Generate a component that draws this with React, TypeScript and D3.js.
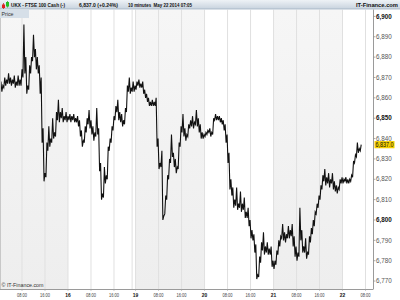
import React from "react";
import * as d3 from "d3";

// 40-minute samples (hours from May 15 00:00 on a session-compressed time axis)
const stepHours = 2 / 3;
const closes: number[] = [
  6871, 6868, 6866, 6870, 6869, 6872, 6870, 6869, 6871, 6868, 6871, 6869, 6874, 6896, 6880, 6866,
  6876, 6880, 6891, 6884, 6880, 6876, 6870, 6845, 6823, 6838, 6846, 6840, 6850, 6843, 6853, 6859,
  6853, 6855, 6851, 6853, 6851,
  6852, 6851, 6852, 6850, 6851, 6849, 6844, 6839, 6846, 6850, 6854, 6849, 6846, 6843, 6855, 6845,
  6828, 6813, 6826, 6822, 6836, 6840, 6846, 6851, 6856, 6859, 6853, 6852, 6849, 6855, 6866, 6870,
  6865, 6868, 6866,
  6868, 6869, 6867, 6868, 6864, 6862, 6860, 6858, 6859, 6858, 6860, 6840, 6828, 6834, 6802, 6812,
  6822, 6830, 6842, 6833, 6830, 6826, 6838, 6846, 6852, 6845, 6842, 6847, 6849, 6851, 6848, 6854,
  6850, 6847, 6843,
  6842, 6843, 6844, 6845, 6843, 6850, 6852, 6851, 6851, 6850, 6849, 6847, 6842, 6833, 6820, 6816,
  6810, 6816, 6808, 6814, 6808, 6811, 6804, 6806, 6800, 6795, 6793, 6788, 6773, 6782, 6789, 6794,
  6787, 6789, 6786, 6787, 6780,
  6780, 6785, 6790, 6792, 6798, 6794, 6793, 6797, 6795, 6798, 6792, 6787, 6784, 6806, 6795, 6787,
  6791, 6784, 6792, 6796, 6800, 6804, 6808, 6812, 6817, 6822, 6825, 6821, 6823, 6820, 6823, 6819,
  6817, 6816, 6820,
  6821, 6820, 6821, 6820, 6820, 6822, 6829, 6832, 6838, 6835, 6837,
];
// lowest trade inside each 40-minute sample
const lows: number[] = [
  6867, 6864, 6863, 6865, 6866, 6867, 6867, 6866, 6867, 6865, 6866, 6866, 6866, 6870, 6872, 6862,
  6864, 6872, 6878, 6880, 6874, 6872, 6862, 6838, 6819, 6821, 6834, 6836, 6838, 6840, 6841, 6849,
  6848, 6850, 6848, 6849, 6848,
  6849, 6848, 6849, 6848, 6848, 6846, 6841, 6836, 6838, 6843, 6847, 6845, 6842, 6839, 6841, 6842,
  6824, 6810, 6811, 6818, 6820, 6834, 6838, 6844, 6849, 6853, 6849, 6848, 6846, 6847, 6853, 6863,
  6862, 6863, 6863,
  6864, 6866, 6865, 6865, 6862, 6860, 6858, 6856, 6856, 6856, 6856, 6836, 6825, 6826, 6800, 6803,
  6810, 6820, 6828, 6831, 6826, 6823, 6825, 6836, 6843, 6841, 6839, 6841, 6845, 6846, 6845, 6847,
  6846, 6843, 6840,
  6840, 6841, 6842, 6843, 6841, 6842, 6849, 6849, 6849, 6848, 6847, 6844, 6838, 6828, 6815, 6812,
  6806, 6807, 6805, 6806, 6804, 6805, 6801, 6801, 6797, 6791, 6790, 6784, 6771, 6772, 6779, 6785,
  6783, 6784, 6783, 6783, 6777,
  6776, 6778, 6783, 6787, 6791, 6790, 6789, 6791, 6791, 6792, 6787, 6782, 6780, 6782, 6790, 6784,
  6784, 6781, 6783, 6789, 6793, 6797, 6803, 6806, 6810, 6815, 6819, 6817, 6818, 6816, 6818, 6815,
  6814, 6813, 6815,
  6818, 6818, 6819, 6818, 6818, 6819, 6821, 6828, 6831, 6833, 6834,
];

const tickHours = [8, 16, 24, 32, 40, 47.5, 55.5, 63.5, 71.5, 79.5, 87.5, 95.5, 103.5, 111.5, 119.5, 127.5];
const tickLabels = ["08:00", "16:00", "16", "08:00", "16:00", "19", "08:00", "16:00", "20", "08:00", "16:00", "21", "08:00", "16:00", "22", "08:00"];
const sessionBreaks = [46.3];
const shadedDays: [number, number][] = [[0, 24], [47.5, 71.5], [95.5, 119.5]];
const yTicks = [6770, 6780, 6790, 6800, 6810, 6820, 6830, 6840, 6850, 6860, 6870, 6880, 6890, 6900];
const lastPrice = 6837.0;

const FONT = "'Liberation Sans', Arial, sans-serif";

export default function App() {
  const left = 0, right = 373, top = 9.5, bottom = 289;
  const x = d3.scaleLinear().domain([0.35, 130.1]).range([left, right]);
  const y = d3.scaleLinear().domain([6766.1, 6903.4]).range([bottom, top]);
  const fmt = d3.format(",");

  const pts: [number, number][] = [];
  closes.forEach((c, i) => {
    const t = i * stepHours;
    if (i > 0) pts.push([t - stepHours / 2, lows[i]]);
    pts.push([t, c]);
  });
  const line = d3
    .line<[number, number]>()
    .x((d) => x(d[0]))
    .y((d) => y(d[1]));

  return (
    <svg width={400} height={300} style={{ position: "absolute", left: 0, top: 0, background: "#fff" }} fontFamily={FONT}>
      <defs>
        <linearGradient id="hdr" x1="0" y1="0" x2="0" y2="1">
          <stop offset="0" stopColor="#eef2f6" />
          <stop offset="1" stopColor="#c8d3de" />
        </linearGradient>
        <linearGradient id="shade" x1="0" y1="0" x2="0" y2="1">
          <stop offset="0" stopColor="#f6f6f6" />
          <stop offset="1" stopColor="#eeeeee" />
        </linearGradient>
        <clipPath id="plot">
          <rect x={left} y={top} width={right - left} height={bottom - top} />
        </clipPath>
      </defs>

      {/* day shading */}
      <g clipPath="url(#plot)">
        {shadedDays.map(([a, b], i) => (
          <rect key={i} x={x(a)} y={top} width={x(b) - x(a)} height={bottom - top} fill="url(#shade)" />
        ))}
        {tickHours.map((h, i) => (
          <line key={i} x1={x(h)} x2={x(h)} y1={top} y2={bottom} stroke="#e0e0e0" strokeWidth={1} />
        ))}
        {sessionBreaks.map((h, i) => (
          <line key={i} x1={x(h)} x2={x(h)} y1={top} y2={bottom} stroke="#e0e0e0" strokeWidth={1} />
        ))}
        <path d={line(pts) || ""} fill="none" stroke="#111" strokeWidth={1.1} strokeLinejoin="miter" />
      </g>

      {/* left border */}
      <line x1={0.5} x2={0.5} y1={top} y2={bottom} stroke="#c8c8c8" />

      {/* header */}
      <rect x={0} y={0} width={400} height={9} fill="url(#hdr)" />
      <line x1={0} x2={400} y1={9} y2={9} stroke="#9fb0c0" strokeWidth={0.8} />
      <g>
        <line x1={3.5} x2={3.5} y1={3} y2={9} stroke="#a00" strokeWidth={0.6} />
        <rect x={2} y={4.5} width={3} height={3.5} fill="#e02020" />
        <line x1={7.5} x2={7.5} y1={1} y2={7.5} stroke="#080" strokeWidth={0.6} />
        <rect x={6} y={2} width={3} height={4.5} fill="#22c022" />
      </g>
      <g fontSize={6} fontWeight="bold" fill="#111">
        <text x={11} y={7.2} textLength={54} lengthAdjust="spacingAndGlyphs">UKX - FTSE 100 Cash (-)</text>
        <text x={79} y={7.2} textLength={39} lengthAdjust="spacingAndGlyphs">6,837.0 (+0.24%)</text>
        <text x={128} y={7.2} textLength={64} lengthAdjust="spacingAndGlyphs" style={{ whiteSpace: "pre" }}>
          {"10 minutes  May 22 2014 07:05"}
        </text>
        <text x={398} y={7.2} textAnchor="end" textLength={42} lengthAdjust="spacingAndGlyphs">IT-Finance.com</text>
      </g>

      {/* Price label */}
      <rect x={0} y={9.5} width={29} height={8.5} fill="#d6dfe8" />
      <text x={1.5} y={16.3} fontSize={6} fill="#333" textLength={12} lengthAdjust="spacingAndGlyphs">Price</text>

      {/* right axis */}
      <line x1={right + 0.5} x2={right + 0.5} y1={top} y2={bottom} stroke="#9a9a9a" />
      {yTicks.map((v) => {
        const major = v % 50 === 0;
        return (
          <g key={v}>
            <line x1={right + 0.5} x2={right + 2.5} y1={y(v)} y2={y(v)} stroke="#888" strokeWidth={0.7} />
            <text
              x={376}
              y={y(v) + 2.2}
              fontSize={6.3}
              fontWeight={major ? "bold" : "normal"}
              fill={major ? "#111" : "#555"}
            >
              {fmt(v)}
            </text>
          </g>
        );
      })}
      <rect x={374.5} y={y(lastPrice) - 3.6} width={20} height={7.2} fill="#f5cf00" />
      <text x={375.5} y={y(lastPrice) + 2.2} fontSize={6.3} fill="#111" textLength={18} lengthAdjust="spacingAndGlyphs">
        {d3.format(",.1f")(lastPrice)}
      </text>

      {/* x axis */}
      <line x1={0} x2={right + 0.5} y1={bottom + 0.5} y2={bottom + 0.5} stroke="#9a9a9a" />
      {tickHours.map((h, i) => {
        const lbl = tickLabels[i];
        const isDay = lbl.length <= 2;
        return (
          <g key={i}>
            <line x1={x(h)} x2={x(h)} y1={bottom + 0.5} y2={bottom + 2} stroke="#aaa" strokeWidth={0.6} />
            <text
              x={x(h)}
              y={296.8}
              fontSize={6}
              textAnchor="middle"
              fontWeight={isDay ? "bold" : "normal"}
              fill={isDay ? "#111" : "#444"}
              textLength={isDay ? 5.5 : 10}
              lengthAdjust="spacingAndGlyphs"
            >
              {lbl}
            </text>
          </g>
        );
      })}

      {/* watermark */}
      <text x={1.5} y={286.5} fontSize={6} fill="#333" textLength={42} lengthAdjust="spacingAndGlyphs">
        © IT-Finance.com
      </text>
    </svg>
  );
}
